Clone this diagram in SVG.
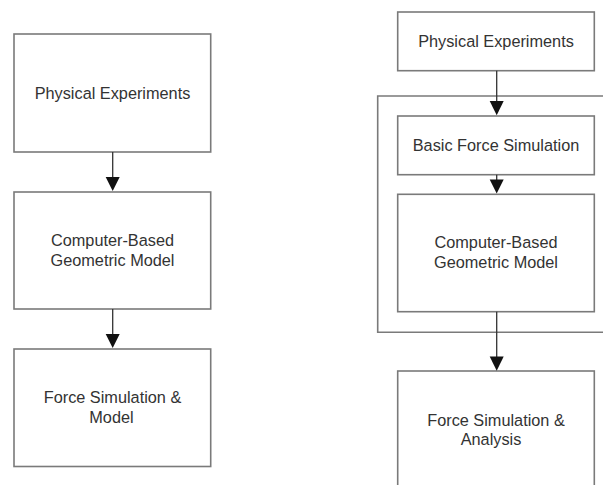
<svg xmlns="http://www.w3.org/2000/svg" width="603" height="485" viewBox="0 0 603 485">
<style>
.box{fill:#fff;stroke:#7a7a7a;stroke-width:1.6}
.frame{fill:none;stroke:#7a7a7a;stroke-width:1.6}
.lbl{font-family:"Liberation Sans",Arial,sans-serif;font-size:16.3px;fill:#333;text-anchor:middle}
.conn{stroke:#333;stroke-width:1.3;fill:none}
.head{fill:#111}
</style>
<rect width="603" height="485" fill="#fff"/>
<g id="frame">
<path class="frame" d="M610 96 H377.7 V332.3 H610"/>
</g>
<g id="L1"><rect class="box" x="14" y="34" width="196.7" height="118"/><text class="lbl" x="112.5" y="98.5">Physical Experiments</text></g>
<g id="L2"><rect class="box" x="14" y="192" width="196.7" height="117"/><text class="lbl" x="112.5" y="246">Computer-Based</text><text class="lbl" x="112.5" y="265.5">Geometric Model</text></g>
<g id="L3"><rect class="box" x="14" y="349" width="196.7" height="117.5"/><text class="lbl" x="112.5" y="403">Force Simulation &amp;</text><text class="lbl" x="111.5" y="422.5">Model</text></g>
<g id="R1"><rect class="box" x="397.7" y="12" width="196.6" height="58.7"/><text class="lbl" x="496" y="46.5">Physical Experiments</text></g>
<g id="R2"><rect class="box" x="397.7" y="116" width="196.6" height="58.7"/><text class="lbl" x="496" y="150.5">Basic Force Simulation</text></g>
<g id="R3"><rect class="box" x="397.7" y="194.3" width="196.6" height="117.4"/><text class="lbl" x="496" y="248">Computer-Based</text><text class="lbl" x="496" y="267.5">Geometric Model</text></g>
<g id="R4"><rect class="box" x="397.7" y="371" width="196.6" height="130"/><text class="lbl" x="496" y="425.5">Force Simulation &amp;</text><text class="lbl" x="491" y="445">Analysis</text></g>
<g id="connectors">
<path class="conn" d="M112.7 152 V178"/><path class="head" d="M105.7 177 H119.7 L112.7 191 Z"/>
<path class="conn" d="M112.7 309 V335"/><path class="head" d="M105.7 334 H119.7 L112.7 348 Z"/>
<path class="conn" d="M496.7 70.7 V102"/><path class="head" d="M489.7 101 H503.7 L496.7 115.3 Z"/>
<path class="conn" d="M496.7 174.7 V181"/><path class="head" d="M489.7 179.5 H503.7 L496.7 193.5 Z"/>
<path class="conn" d="M496.7 311.7 V358"/><path class="head" d="M489.7 356.5 H503.7 L496.7 370.7 Z"/>
</g>
</svg>
